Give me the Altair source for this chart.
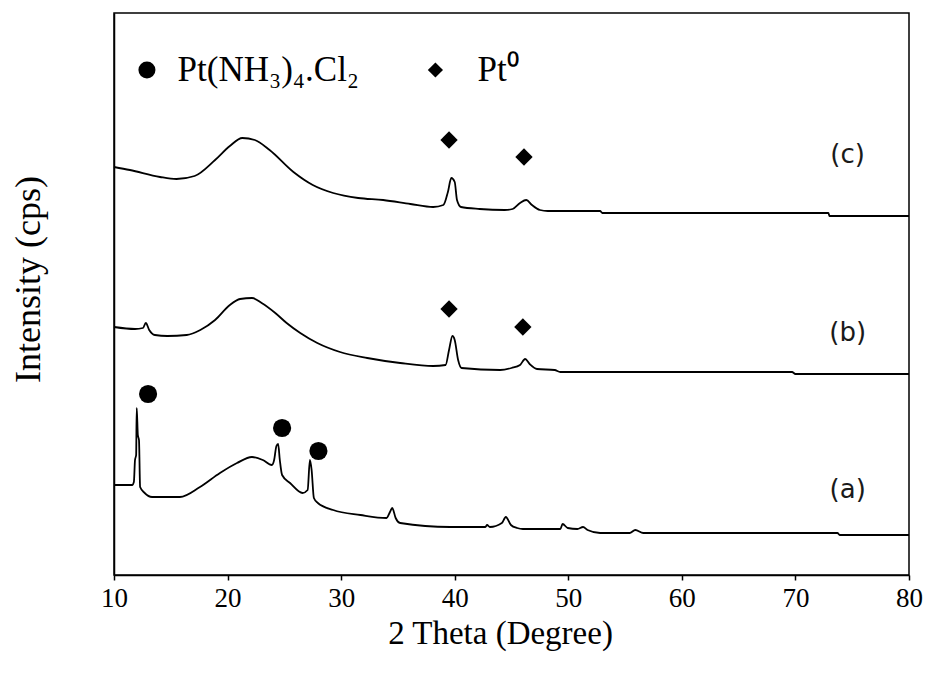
import altair as alt
import pandas as pd

# ---- data (2-theta in degrees, intensity in arbitrary cps) ----
a_theta = [10.0, 11.6, 11.75, 11.85, 11.95, 12.0, 12.1, 12.2, 12.3, 12.7, 13.35, 15.8, 17.57, 19.33, 20.83, 22.15,
           23.1, 23.9, 24.1, 24.3, 24.45, 24.6, 24.8, 25.5, 26.6, 27.05, 27.25, 27.4, 27.6, 27.95, 29.3, 31.7,
           34.0, 34.3, 34.5, 34.8, 35.2, 39.6, 42.7, 42.85, 43.1, 44.15, 44.5, 44.95, 45.5, 46.0, 49.3, 49.5,
           49.95, 50.8, 51.3, 51.7, 52.8, 55.4, 55.9, 56.6, 73.7, 73.9, 80.0]
a_int = [900, 900, 930, 1150, 1200, 1670, 1400, 1350, 880, 820, 780, 780, 880, 1020, 1120, 1180,
         1150, 1100, 1150, 1290, 1310, 1150, 1000, 920, 820, 850, 1150, 1050, 770, 720, 650, 600,
         570, 630, 670, 570, 520, 480, 480, 500, 480, 520, 580, 500, 470, 460, 460, 510,
         470, 460, 480, 450, 420, 420, 450, 420, 420, 400, 400]

b_theta = [10.0, 11.85, 12.55, 12.8, 13.1, 13.6, 14.7, 16.4, 17.6, 18.9, 20.2, 21.1, 22.15, 23.0, 24.2, 25.2,
           26.4, 27.9, 29.9, 32.3, 35.2, 38.1, 39.2, 39.5, 39.8, 40.0, 40.3, 40.6, 44.0, 45.0, 45.75, 46.2,
           46.6, 47.25, 48.8, 49.3, 69.7, 70.0, 80.0]
b_int = [2480, 2460, 2470, 2520, 2450, 2400, 2390, 2400, 2450, 2550, 2700, 2760, 2770, 2720, 2620, 2520,
         2420, 2320, 2230, 2170, 2120, 2090, 2100, 2250, 2390, 2350, 2150, 2070, 2050, 2070, 2100, 2160,
         2110, 2060, 2050, 2030, 2030, 2010, 2010]

c_theta = [10.0, 11.4, 14.05, 15.5, 17.1, 18.9, 20.2, 21.3, 22.4, 23.7, 25.8, 27.5, 29.3, 31.5, 33.7, 36.1,
           38.1, 39.0, 39.4, 39.7, 40.0, 40.2, 40.55, 42.2, 44.4, 45.1, 45.75, 46.3, 46.8, 47.5, 48.2, 52.8,
           53.0, 72.9, 73.0, 80.0]
c_int = [4080, 4050, 3980, 3960, 3990, 4150, 4290, 4370, 4350, 4250, 4030, 3900, 3820, 3770, 3750, 3710,
         3680, 3700, 3830, 3970, 3930, 3750, 3680, 3660, 3650, 3660, 3720, 3750, 3700, 3650, 3640, 3640,
         3620, 3620, 3590, 3590]

# peak markers
circle_theta = [13.0, 24.8, 28.0]
circle_int = [1810, 1470, 1240]
diamond_theta = [39.5, 46.0, 39.5, 46.1]
diamond_int = [2660, 2480, 4350, 4180]

# legend
legend_sym_theta = [12.9, 38.3]
legend_sym_int = [5050, 5050]
legend_text_theta = [15.6, 42.0]
legend_text = ["Pt(NH₃)₄.Cl₂", "Pt⁰"]

# curve labels
curve_label = ["(a)", "(b)", "(c)"]
curve_label_theta = [74.6, 74.6, 74.6]
curve_label_int = [850, 2420, 4200]

x_ticks = [10, 20, 30, 40, 50, 60, 70, 80]

# ---- build tables ----
rows = []
for name, th, it in (("a", a_theta, a_int), ("b", b_theta, b_int), ("c", c_theta, c_int)):
    for t, v in zip(th, it):
        rows.append({"series": name, "theta": t, "intensity": v})
lines_df = pd.DataFrame(rows)
circ_df = pd.DataFrame({"theta": circle_theta, "intensity": circle_int})
diam_df = pd.DataFrame({"theta": diamond_theta, "intensity": diamond_int})
leg_c_df = pd.DataFrame({"theta": legend_sym_theta[:1], "intensity": legend_sym_int[:1]})
leg_d_df = pd.DataFrame({"theta": legend_sym_theta[1:], "intensity": legend_sym_int[1:]})
leg_t_df = pd.DataFrame({"theta": legend_text_theta, "intensity": legend_sym_int, "text": legend_text})
lab_df = pd.DataFrame({"theta": curve_label_theta, "intensity": curve_label_int, "text": curve_label})

SERIF = "Liberation Serif"

x_scale = alt.Scale(domain=[10, 80], nice=False, zero=False)
y_scale = alt.Scale(domain=[0, 5620], nice=False, zero=False)

x_enc = alt.X(
    "theta:Q", scale=x_scale,
    axis=alt.Axis(
        title="2 Theta (Degree)", values=x_ticks, format="d", grid=False,
        tickSize=5, labelFlush=False,
        titleX=386, titleY=58, titleBaseline="middle", titleAlign="center",
    ),
)
y_enc = alt.Y(
    "intensity:Q", scale=y_scale,
    axis=alt.Axis(
        title="Intensity (cps)", ticks=False, labels=False, grid=False,
        titleX=-86, titleY=266, titleBaseline="middle", titleAngle=270, titleAlign="center",
        titleFontSize=36,
    ),
)

lines = alt.Chart(lines_df).mark_line(color="black", strokeWidth=1.8, interpolate="monotone").encode(
    x=x_enc, y=y_enc, detail="series:N", order="theta:Q"
)

circles = alt.Chart(circ_df).mark_point(shape="circle", filled=True, color="black", size=330, opacity=1).encode(
    x="theta:Q", y="intensity:Q"
)
diamonds = alt.Chart(diam_df).mark_point(shape="diamond", filled=True, color="black", size=300, opacity=1).encode(
    x="theta:Q", y="intensity:Q"
)
leg_circle = alt.Chart(leg_c_df).mark_point(shape="circle", filled=True, color="black", size=290, opacity=1).encode(
    x="theta:Q", y="intensity:Q"
)
leg_diamond = alt.Chart(leg_d_df).mark_point(shape="diamond", filled=True, color="black", size=230, opacity=1).encode(
    x="theta:Q", y="intensity:Q"
)
leg_text = alt.Chart(leg_t_df).mark_text(
    font=SERIF, fontSize=35, align="left", baseline="middle", color="black"
).encode(x="theta:Q", y="intensity:Q", text="text:N")

labels = alt.Chart(lab_df).mark_text(
    font="DejaVu Sans", fontSize=26, align="center", baseline="middle", color="#1a1a1a"
).encode(x="theta:Q", y="intensity:Q", text="text:N")

chart = alt.layer(lines, circles, diamonds, leg_circle, leg_diamond, leg_text, labels).properties(
    width=795, height=562,
    autosize=alt.AutoSizeParams(type="none"),
    padding={"left": 114, "top": 13, "right": 19, "bottom": 100},
    background="white",
).configure_view(
    stroke="black", strokeWidth=1.5
).configure_axis(
    labelFont=SERIF, labelFontSize=27, labelColor="black", labelPadding=5,
    titleFont=SERIF, titleFontSize=33, titleFontWeight="normal", titleColor="black",
    domainColor="black", domainWidth=1.5, tickColor="black", tickWidth=1.5,
)

chart.save("out.html", embed_options={"renderer": "svg", "actions": False})
